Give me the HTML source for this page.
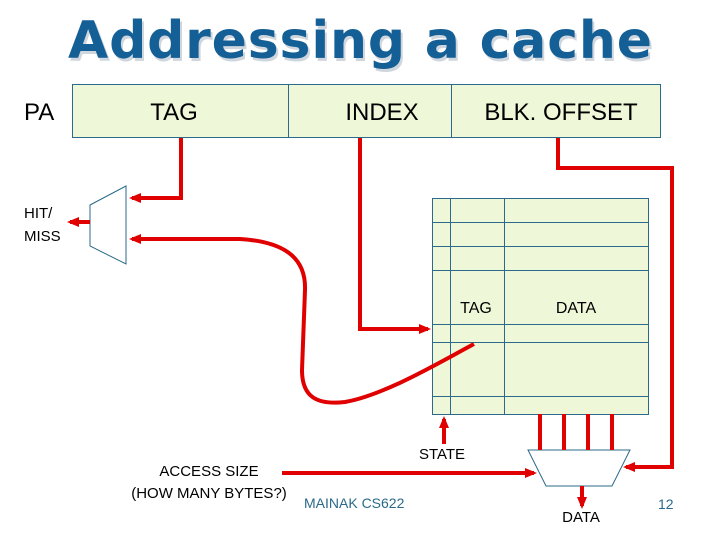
<!DOCTYPE html>
<html><head><style>
html,body{margin:0;padding:0;background:#fff;width:720px;height:540px;overflow:hidden}
svg text{font-family:"Liberation Sans",sans-serif}
</style></head><body>
<svg width="720" height="540" viewBox="0 0 720 540">
<defs>
<marker id="a" markerWidth="12" markerHeight="10" refX="9" refY="5" orient="auto" markerUnits="userSpaceOnUse"><path d="M0,0 L12,5 L0,10 Z" fill="#e00000"/></marker>
</defs>
<text x="360" y="58" text-anchor="middle" font-size="52" font-weight="bold" fill="#cfd6dd" transform="translate(2,3)" style="font-family:'DejaVu Sans',sans-serif" textLength="584">Addressing a cache</text>
<text x="360" y="58" text-anchor="middle" font-size="52" font-weight="bold" fill="#135f96" style="font-family:'DejaVu Sans',sans-serif" textLength="584">Addressing a cache</text>
<rect x="72.5" y="84.5" width="588" height="53" fill="#eef7d8" stroke="#2b6a8a"/>
<line x1="288.5" y1="84" x2="288.5" y2="138" stroke="#2b6a8a"/>
<line x1="451.5" y1="84" x2="451.5" y2="138" stroke="#2b6a8a"/>
<text x="24" y="120" font-size="24">PA</text>
<text x="174" y="120" font-size="24" text-anchor="middle">TAG</text>
<text x="382" y="120" font-size="24" text-anchor="middle">INDEX</text>
<text x="561" y="120" font-size="24" text-anchor="middle">BLK. OFFSET</text>
<rect x="432.5" y="198.5" width="216" height="216" fill="#eef7d8" stroke="#2b6a8a"/>
<g stroke="#2b6a8a">
<line x1="450.5" y1="198" x2="450.5" y2="414"/><line x1="504.5" y1="198" x2="504.5" y2="414"/>
<line x1="432" y1="222.5" x2="648" y2="222.5"/><line x1="432" y1="246.5" x2="648" y2="246.5"/>
<line x1="432" y1="270.5" x2="648" y2="270.5"/><line x1="432" y1="324.5" x2="648" y2="324.5"/>
<line x1="432" y1="342.5" x2="648" y2="342.5"/><line x1="432" y1="396.5" x2="648" y2="396.5"/>
</g>
<text x="476" y="313" font-size="16" text-anchor="middle">TAG</text>
<text x="576" y="313" font-size="16" text-anchor="middle">DATA</text>
<polygon points="90,205 126,186 126,264 90,246" fill="#fff" stroke="#2b6a8a"/>
<polygon points="528,450 630,450 612,486 546,486" fill="#fff" stroke="#2b6a8a"/>
<g stroke="#e00000" stroke-width="4" fill="none">
<polyline points="181,138 181,198 132,198" marker-end="url(#a)"/>
<line x1="90" y1="222" x2="70" y2="222" marker-end="url(#a)"/>
<path d="M474,344 C440,362 385,395 345,402 C318,405 302,398 302,370 L305,290 C306,262 290,242 240,239 L132,239" marker-end="url(#a)"/>
<polyline points="360,138 360,329 428,329" marker-end="url(#a)"/>
<polyline points="558,138 558,168 672,168 672,467 626,467" marker-end="url(#a)"/>
<line x1="540" y1="414" x2="540" y2="450"/><line x1="564" y1="414" x2="564" y2="450"/>
<line x1="588" y1="414" x2="588" y2="450"/><line x1="612" y1="414" x2="612" y2="450"/>
<line x1="582" y1="486" x2="582" y2="506" marker-end="url(#a)"/>
<line x1="444" y1="444" x2="444" y2="419" marker-end="url(#a)"/>
<line x1="282" y1="473" x2="534" y2="473" marker-end="url(#a)"/>
</g>
<text x="24" y="218" font-size="15">HIT/</text>
<text x="24" y="241" font-size="15">MISS</text>
<text x="442" y="459" font-size="15" text-anchor="middle">STATE</text>
<text x="209" y="476" font-size="15" text-anchor="middle">ACCESS SIZE</text>
<text x="209" y="498" font-size="15" text-anchor="middle">(HOW MANY BYTES?)</text>
<text x="304" y="508" font-size="14" fill="#2b6a8a">MAINAK  CS622</text>
<text x="581" y="522" font-size="15" text-anchor="middle">DATA</text>
<text x="658" y="509" font-size="14" fill="#2b6a8a">12</text>
</svg>
</body></html>
